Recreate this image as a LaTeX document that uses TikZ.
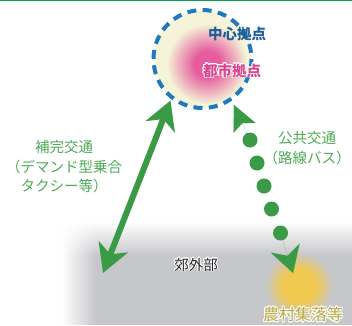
\documentclass[tikz,border=0pt]{standalone}
\usepackage{fontspec}
\usepackage[copies]{contour}
\contourlength{0.8pt}
\newfontfamily\jp{Noto Sans CJK JP}
\usetikzlibrary{arrows.meta,fadings}
\definecolor{agreen}{HTML}{3A9A46}
\definecolor{lgreen}{HTML}{4EAA57}
\definecolor{dblue}{HTML}{1E79BE}
\definecolor{tblue}{HTML}{1E5F99}
\definecolor{cream}{HTML}{F5F4D8}
\definecolor{pinkc}{HTML}{E65C9E}
\definecolor{tpink}{HTML}{D8468B}
\definecolor{grayc}{HTML}{C6C7CA}
\definecolor{yelc}{HTML}{F0C850}
\definecolor{khaki}{HTML}{B8A944}
\definecolor{topgreen}{HTML}{00A650}
\pgfdeclareradialshading{blobshade}{\pgfpoint{0bp}{0bp}}{color(0bp)=(white); color(8bp)=(white); color(25bp)=(black); color(50bp)=(black)}
\pgfdeclarefading{blob}{\pgfuseshading{blobshade}}
\pgfdeclareradialshading{yblobshade}{\pgfpoint{0bp}{0bp}}{color(0bp)=(white); color(12bp)=(white); color(25bp)=(black); color(50bp)=(black)}
\pgfdeclarefading{yblob}{\pgfuseshading{yblobshade}}
\tikzfading[name=fadeR, left color=transparent!0, right color=transparent!100]
\tikzfading[name=fadeD, top color=transparent!0, bottom color=transparent!100]
\tikzset{
  glabel/.style={text=lgreen, font=\jp\fontsize{14.5pt}{19.5pt}\selectfont, align=center, inner sep=0pt},
  dot/.style={fill=agreen},
}
\begin{document}
\begin{tikzpicture}[x=1pt,y=-1pt]
\useasboundingbox (0,0) rectangle (352,325);
\fill[white] (0,0) rectangle (352,325);
\fill[topgreen] (0,0) rectangle (352,1.4);
% suburb area
\fill[grayc] (62,222) rectangle (352,325);
\fill[white, path fading=fadeR] (62,222) rectangle (96,325);
\fill[white, path fading=fadeD] (62,222) rectangle (352,256);
% rural settlement blob
\coordinate (yc) at (299,286);
\fill[yelc, path fading=yblob] (yc) circle (34);
% central hub
\coordinate (cc) at (202.5,59);
\coordinate (pc) at (207,64);
\fill[cream] (cc) circle (49);
\fill[pinkc, path fading=blob] (pc) circle (40);
\draw[dblue, line width=4pt, dash pattern=on 9pt off 6.4pt] (cc) circle (49);
% texts
\node[text=tblue, font=\jp\bfseries\fontsize{14.5pt}{16pt}\selectfont, inner sep=0pt] (chushin) at (237,33.5) {中心拠点};
\node[text=tpink, font=\jp\bfseries\fontsize{14.5pt}{16pt}\selectfont, inner sep=0pt] (toshi) at (232,71) {\contour{white}{都市拠点}};
\node[text=black!85, font=\jp\fontsize{14.5pt}{16pt}\selectfont, inner sep=0pt] (kogai) at (196,265) {\contour{white}{郊外部}};
\node[text=khaki, font=\jp\fontsize{16pt}{18pt}\selectfont, inner sep=0pt] (noson) at (303,315) {\contour{white}{農村集落等}};
\node[glabel] (hokan) at (64,167) {補完交通\\（デマンド型乗合\\タクシー等）};
\node[glabel] (koukyo) at (307,148) {公共交通\\（路線バス）};
% double arrow
\coordinate (dblA) at (103,273);
\coordinate (dblB) at (170.5,100.5);
\draw[agreen, line width=6pt, {Stealth[length=28pt,width=31pt,inset=8pt]}-{Stealth[length=28pt,width=31pt,inset=8pt]}] (dblA) -- (dblB);
% dotted arrow
\coordinate (d1) at (250,140);
\coordinate (d2) at (257,163);
\coordinate (d3) at (264,186);
\coordinate (d4) at (271.5,209);
\coordinate (d5) at (280.5,233);
\coordinate (tt) at (234,105);
\coordinate (bt) at (293,273);
\draw[agreen, line width=0.01pt, -{Stealth[length=25pt,width=24pt,inset=5pt]}] (d1) -- (tt);
\draw[agreen, line width=0.01pt, -{Stealth[length=26pt,width=30pt,inset=8pt]}] (d5) -- (bt);
\foreach \d in {d1,d2,d3,d4,d5} \fill[dot] (\d) circle (7.5);
\end{tikzpicture}
\end{document}
